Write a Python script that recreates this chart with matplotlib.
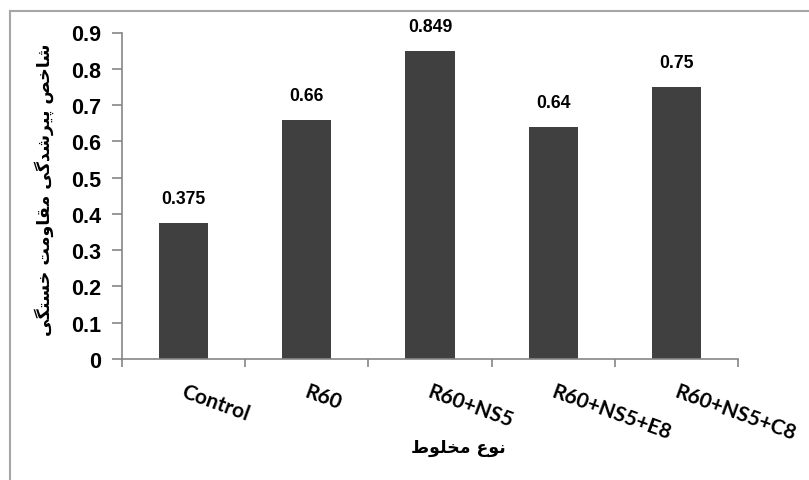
import matplotlib
matplotlib.use("Agg")
import matplotlib.pyplot as plt
from matplotlib.lines import Line2D
import matplotlib.transforms as mtransforms

# ---- data ----
categories = ["Control", "R60", "R60+NS5", "R60+NS5+E8", "R60+NS5+C8"]
values = [0.375, 0.66, 0.849, 0.64, 0.75]
value_labels = ["0.375", "0.66", "0.849", "0.64", "0.75"]
y_ticks = [0, 0.1, 0.2, 0.3, 0.4, 0.5, 0.6, 0.7, 0.8, 0.9]
y_tick_labels = ["0", "0.1", "0.2", "0.3", "0.4", "0.5", "0.6", "0.7", "0.8", "0.9"]
x_title = "نوع مخلوط"
y_title = "شاخص پیرشدگی مقاومت خستگی"

# ---- minimal Persian shaping (presentation forms + visual order) ----
# letter: (isolated, final, initial, medial); None = does not join forward
FORMS = {
    "ا": ("\uFE8D", "\uFE8E", None, None),
    "پ": ("\uFB56", "\uFB57", "\uFB58", "\uFB59"),
    "ت": ("\uFE95", "\uFE96", "\uFE97", "\uFE98"),
    "خ": ("\uFEA5", "\uFEA6", "\uFEA7", "\uFEA8"),
    "د": ("\uFEA9", "\uFEAA", None, None),
    "ر": ("\uFEAD", "\uFEAE", None, None),
    "س": ("\uFEB1", "\uFEB2", "\uFEB3", "\uFEB4"),
    "ش": ("\uFEB5", "\uFEB6", "\uFEB7", "\uFEB8"),
    "ص": ("\uFEB9", "\uFEBA", "\uFEBB", "\uFEBC"),
    "ط": ("\uFEC1", "\uFEC2", "\uFEC3", "\uFEC4"),
    "ع": ("\uFEC9", "\uFECA", "\uFECB", "\uFECC"),
    "ق": ("\uFED5", "\uFED6", "\uFED7", "\uFED8"),
    "گ": ("\uFB92", "\uFB93", "\uFB94", "\uFB95"),
    "ل": ("\uFEDD", "\uFEDE", "\uFEDF", "\uFEE0"),
    "م": ("\uFEE1", "\uFEE2", "\uFEE3", "\uFEE4"),
    "ن": ("\uFEE5", "\uFEE6", "\uFEE7", "\uFEE8"),
    "و": ("\uFEED", "\uFEEE", None, None),
    "ی": ("\uFBFC", "\uFBFD", "\uFBFE", "\uFBFF"),
}


def joins_forward(ch):
    return ch in FORMS and FORMS[ch][2] is not None


def shape(text):
    out = []
    for i, ch in enumerate(text):
        if ch not in FORMS:
            out.append(ch)
            continue
        prev = text[i - 1] if i > 0 else ""
        nxt = text[i + 1] if i + 1 < len(text) else ""
        from_prev = joins_forward(prev)
        to_next = joins_forward(ch) and nxt in FORMS
        iso, fin, ini, med = FORMS[ch]
        if from_prev and to_next:
            out.append(med)
        elif from_prev:
            out.append(fin)
        elif to_next:
            out.append(ini)
        else:
            out.append(iso)
    return "".join(out)[::-1]


# ---- figure ----
W, H = 809, 481
fig = plt.figure(figsize=(W / 100, H / 100), dpi=100)
ax = fig.add_axes([122 / W, 1 - 360 / H, (738 - 122) / W, (360 - 33.5) / H])

axis_gray = "#868686"
x = list(range(len(categories)))
ax.bar(x, values, width=0.4, color="#404040", zorder=2)

ax.set_xlim(-0.5, len(categories) - 0.5)
ax.set_ylim(0, 0.9)

ax.spines["top"].set_visible(False)
ax.spines["right"].set_visible(False)
for s in ("left", "bottom"):
    ax.spines[s].set_color(axis_gray)
    ax.spines[s].set_linewidth(1.2)

ax.set_yticks(y_ticks)
ax.set_yticklabels(y_tick_labels, fontsize=15.5, fontweight="bold",
                   family="Liberation Sans")
ax.tick_params(axis="y", direction="out", length=7, width=1.2,
               color=axis_gray, pad=8)

# x ticks at category boundaries, labels placed separately
ax.set_xticks([i - 0.5 for i in range(len(categories) + 1)])
ax.set_xticklabels([])
ax.tick_params(axis="x", direction="out", length=6, width=1.2, color=axis_gray)

offset = mtransforms.ScaledTranslation(0, -31 / 100, fig.dpi_scale_trans)
lab_tr = ax.get_xaxis_transform() + offset
for i, c in enumerate(categories):
    ax.text(i - 0.01, 0, c, transform=lab_tr, rotation=-20,
            rotation_mode="anchor", ha="left", va="center",
            fontsize=15, fontweight="bold", family="Lato")

for i, (v, lab) in enumerate(zip(values, value_labels)):
    ax.annotate(lab, (i, v), xytext=(0, 11.5), textcoords="offset points",
                ha="center", va="bottom", fontsize=12.7, fontweight="bold",
                family="Liberation Sans")

fig.text(458 / W, 1 - 448 / H, shape(x_title), ha="center", va="center",
         fontsize=12.5, fontweight="bold", family="DejaVu Sans")
fig.text(44 / W, 1 - 190 / H, shape(y_title), ha="center", va="center",
         rotation=90, fontsize=12.5, fontweight="bold", family="DejaVu Sans")

# outer frame lines
frame_gray = "#a6a6a6"
fig.add_artist(Line2D([9.5 / W, 1], [1 - 12 / H, 1 - 12 / H],
                      transform=fig.transFigure, color=frame_gray, lw=1.5))
fig.add_artist(Line2D([9.5 / W, 9.5 / W], [1 - 12 / H, 0],
                      transform=fig.transFigure, color=frame_gray, lw=1.5))

fig.savefig("out.png", dpi=100)
